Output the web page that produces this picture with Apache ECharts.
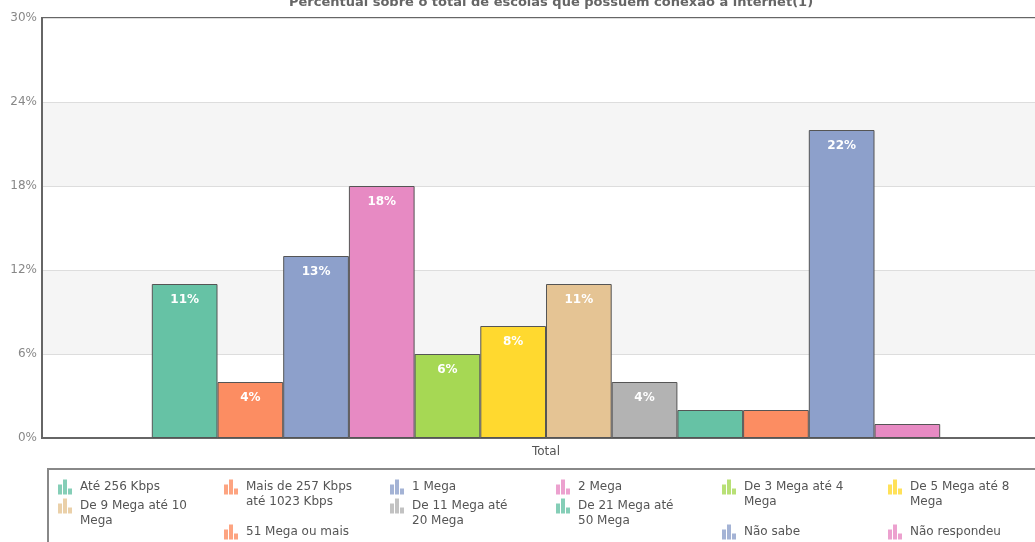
<!DOCTYPE html>
<html>
<head>
<meta charset="utf-8">
<script src="https://cdn.jsdelivr.net/npm/echarts@6/dist/echarts.min.js"></script>
<style>
  html, body { margin: 0; padding: 0; background: #fff; }
  #chart { width: 1035px; height: 542px; }
</style>
</head>
<body>
<div id="chart"></div>
<script>
// categoria única do eixo x
const categories = ["Total"];

const seriesNames = [
  "Até 256 Kbps",
  "Mais de 257 Kbps até 1023 Kbps",
  "1 Mega",
  "2 Mega",
  "De 3 Mega até 4 Mega",
  "De 5 Mega até 8 Mega",
  "De 9 Mega até 10 Mega",
  "De 11 Mega até 20 Mega",
  "De 21 Mega até 50 Mega",
  "51 Mega ou mais",
  "Não sabe",
  "Não respondeu",
];

// percentuais
const values = [11, 4, 13, 18, 6, 8, 11, 4, 2, 2, 22, 1];

const yTicks = [0, 6, 12, 18, 24, 30];

// texto da legenda quebrado como no original
const legendLabels = [
  "Até 256 Kbps",
  "Mais de 257 Kbps\naté 1023 Kbps",
  "1 Mega",
  "2 Mega",
  "De 3 Mega até 4\nMega",
  "De 5 Mega até 8\nMega",
  "De 9 Mega até 10\nMega",
  "De 11 Mega até\n20 Mega",
  "De 21 Mega até\n50 Mega",
  "51 Mega ou mais",
  "Não sabe",
  "Não respondeu",
];

const colors = [
  "#66c2a5", "#fc8d62", "#8da0cb", "#e78ac3", "#a6d854", "#ffd92f",
  "#e5c494", "#b3b3b3", "#66c2a5", "#fc8d62", "#8da0cb", "#e78ac3",
];

// posição de cada item da legenda: [x do ícone, y do centro da 1ª linha]
const legendPos = [
  [58, 487], [224, 487], [390, 487], [556, 487], [722, 487], [888, 487],
  [58, 506], [390, 506], [556, 506], [224, 532], [722, 532], [888, 532],
];

const FONT = "DejaVu Sans";
const LH = 15;
const icon = "path://M0,5h4v10h-4z M5,0h4v15h-4z M10,9h4v6h-4z";

const chart = echarts.init(document.getElementById("chart"));

const legends = seriesNames.map((name, i) => {
  const twoLines = legendLabels[i].indexOf("\n") >= 0;
  // linha vazia antes para a 1ª linha ficar alinhada com o ícone
  const txt = twoLines ? "\n" + legendLabels[i] : legendLabels[i];
  return {
    data: [name],
    left: legendPos[i][0],
    top: legendPos[i][1] - (twoLines ? 22.5 : 7.5),
    padding: 0,
    icon: icon,
    itemWidth: 14,
    itemHeight: 15,
    selectedMode: false,
    itemStyle: { opacity: 0.8, borderWidth: 0 },
    formatter: () => txt,
    textStyle: {
      fontFamily: FONT,
      fontSize: 12,
      color: "#555",
      lineHeight: LH,
      padding: [0, 0, 0, 3],
    },
  };
});

const series = seriesNames.map((name, i) => ({
  name: name,
  type: "bar",
  data: [values[i]],
  barGap: 0,
  barWidth: 65.7,
  itemStyle: {
    color: colors[i],
    borderColor: "#555",
    borderWidth: 1,
  },
  label: {
    show: true,
    position: "insideTop",
    distance: 10,
    color: "#fff",
    fontFamily: FONT,
    fontSize: 12,
    fontWeight: "bold",
    formatter: (p) => (p.value >= 3 ? p.value + "%" : ""),
  },
}));

chart.setOption({
  animation: false,
  title: {
    text: "Percentual sobre o total de escolas que possuem conexão à internet(1)",
    left: 546,
    textAlign: "center",
    top: -9,
    textStyle: {
      fontFamily: FONT,
      fontSize: 13,
      fontWeight: "bold",
      color: "#666",
    },
  },
  grid: {
    left: 42,
    top: 18,
    width: 1008,
    height: 420,
    outerBoundsMode: "none",
    show: true,
    borderColor: "#666",
    borderWidth: 2,
    backgroundColor: "transparent",
  },
  legend: legends,
  graphic: [
    {
      type: "rect",
      shape: { x: 48, y: 469, width: 1000, height: 100 },
      style: { fill: "transparent", stroke: "#888", lineWidth: 2 },
    },
  ],
  xAxis: {
    type: "category",
    data: categories,
    axisTick: { show: false },
    axisLine: { lineStyle: { color: "#666", width: 2 } },
    axisLabel: { color: "#555", fontFamily: FONT, fontSize: 12, margin: 8 },
  },
  yAxis: {
    type: "value",
    min: yTicks[0],
    max: yTicks[yTicks.length - 1],
    interval: 6,
    axisLine: { show: true, lineStyle: { color: "#666", width: 2 } },
    axisTick: { show: false },
    axisLabel: {
      color: "#888",
      fontFamily: FONT,
      fontSize: 12,
      margin: 5,
      formatter: "{value}%",
    },
    splitLine: { lineStyle: { color: "#ddd", width: 1 } },
    splitArea: { show: true, areaStyle: { color: ["#fff", "#f5f5f5"] } },
  },
  series: series,
});
</script>
</body>
</html>
